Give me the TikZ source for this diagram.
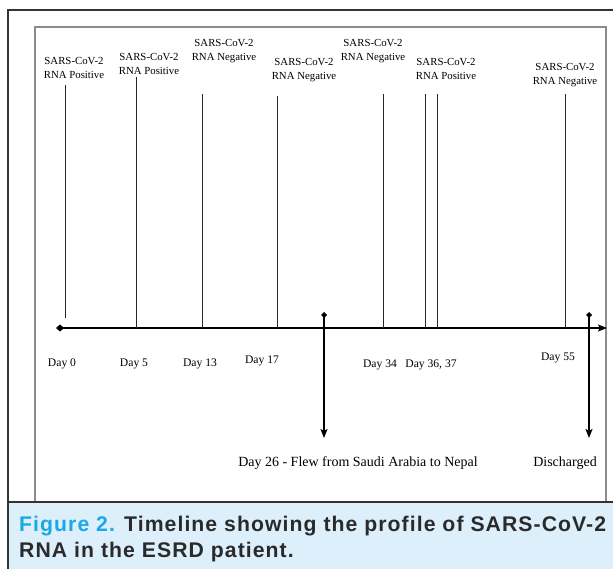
\documentclass[tikz,border=0pt]{standalone}
\usepackage{fontspec}
\setmainfont{Liberation Serif}
\newfontfamily\capfont[LetterSpace=5]{Liberation Sans}
\usetikzlibrary{arrows.meta}
\definecolor{framedark}{HTML}{333333}
\definecolor{framegray}{HTML}{8C8C8C}
\definecolor{capblue}{HTML}{DCEFFA}
\definecolor{figcyan}{HTML}{1AA9E6}
\definecolor{captext}{HTML}{2A2A2A}
\tikzset{
  toplabel/.style={align=center, font=\fontsize{10.8}{14}\selectfont, inner sep=0pt, anchor=base},
  daylabel/.style={font=\fontsize{11.6}{14}\selectfont, inner sep=0pt, anchor=base},
  eventlabel/.style={font=\fontsize{14}{16}\selectfont, inner sep=0pt, anchor=base},
  tickline/.style={line width=0.9pt, draw=black!85},
  axisline/.style={line width=1.8pt, -{Stealth[length=9pt,width=7pt,inset=2pt]}},
  eventarrow/.style={line width=1.8pt, {Diamond[length=6pt,width=6pt]}-{Stealth[length=9pt,width=7pt,inset=2pt]}},
}
\begin{document}
\begin{tikzpicture}[x=1pt,y=-1pt]
\useasboundingbox (0,0) rectangle (613,569);
% frames
\fill[white] (0,0) rectangle (613,569);
\fill[capblue] (8,502) rectangle (616,572);
\draw[framegray, line width=1.2pt] (35,27) rectangle (606,502);
\draw[framedark, line width=2.6pt] (8,575) -- (8,10) -- (620,10);
\draw[framedark, line width=2.6pt] (8,502) -- (620,502);
% axis
\coordinate (axs) at (60,328);
\coordinate (axe) at (607,328);
\draw[axisline] (axs) -- (axe);
\fill (axs) +(-4,0) -- +(0,-3.5) -- +(4,0) -- +(0,3.5) -- cycle;
% top labels (anchor = baseline of second line)
\node[toplabel] (l1) at (74,79) {SARS-CoV-2\\RNA Positive};
\node[toplabel] (l2) at (149,75) {SARS-CoV-2\\RNA Positive};
\node[toplabel] (l3) at (224,61) {SARS-CoV-2\\RNA Negative};
\node[toplabel] (l4) at (304,80) {SARS-CoV-2\\RNA Negative};
\node[toplabel] (l5) at (373,61) {SARS-CoV-2\\RNA Negative};
\node[toplabel] (l6) at (446,80) {SARS-CoV-2\\RNA Positive};
\node[toplabel] (l7) at (565,85) {SARS-CoV-2\\RNA Negative};
% ticks
\coordinate (t1a) at (65,85);  \coordinate (t1b) at (65,318);
\coordinate (t2a) at (136,77); \coordinate (t2b) at (136,328);
\coordinate (t3a) at (202,94); \coordinate (t3b) at (202,328);
\coordinate (t4a) at (277,96); \coordinate (t4b) at (277,328);
\coordinate (t5a) at (383,94); \coordinate (t5b) at (383,328);
\coordinate (t6a) at (425,94); \coordinate (t6b) at (425,328);
\coordinate (t7a) at (437,94); \coordinate (t7b) at (437,328);
\coordinate (t8a) at (565,94); \coordinate (t8b) at (565,328);
\foreach \i in {1,...,8} \draw[tickline] (t\i a) -- (t\i b);
% day labels
\node[daylabel] (d0) at (62,366) {Day 0};
\node[daylabel] (d5) at (134,366) {Day 5};
\node[daylabel] (d13) at (200,366) {Day 13};
\node[daylabel] (d17) at (262,363) {Day 17};
\node[daylabel] (d34) at (380,367) {Day 34};
\node[daylabel] (d36) at (431,367) {Day 36, 37};
\node[daylabel] (d55) at (558,360) {Day 55};
% event arrows
\coordinate (e1a) at (324,312); \coordinate (e1b) at (324,438);
\coordinate (e2a) at (589,312); \coordinate (e2b) at (589,438);
\draw[eventarrow] (e1a) -- (e1b);
\draw[eventarrow] (e2a) -- (e2b);
\node[eventlabel] (ev1) at (358,466) {Day 26 - Flew from Saudi Arabia to Nepal};
\node[eventlabel] (ev2) at (565,466) {Discharged};
% caption (anchor = baseline of second line)
\node[anchor=base west, inner sep=0pt, align=left, text=captext,
      font=\capfont\bfseries\fontsize{21.2}{26}\selectfont] (cap) at (19,557)
  {{\color{figcyan}Figure 2.} Timeline showing the profile of SARS-CoV-2\\RNA in the ESRD patient.};
\end{tikzpicture}
\end{document}
